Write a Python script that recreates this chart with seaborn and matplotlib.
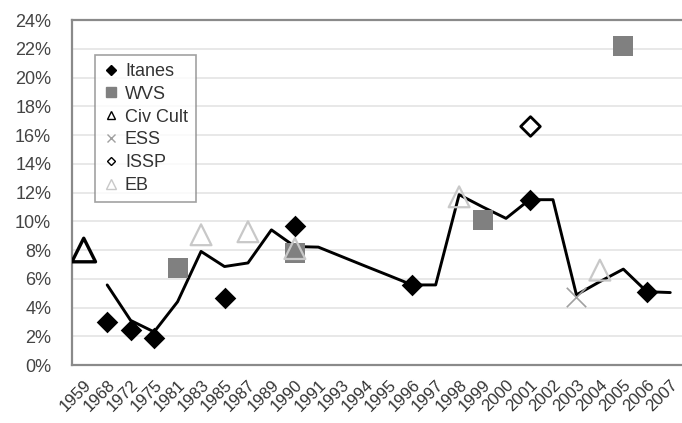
import numpy as np
import pandas as pd
import matplotlib
matplotlib.use("Agg")
import matplotlib.pyplot as plt
from matplotlib.lines import Line2D
from matplotlib.ticker import PercentFormatter, FixedLocator
import seaborn as sns

# Survey years (categorical axis)
years = ["1959", "1968", "1972", "1975", "1981", "1983", "1985", "1987", "1989",
         "1990", "1991", "1993", "1994", "1995", "1996", "1997", "1998", "1999",
         "2000", "2001", "2002", "2003", "2004", "2005", "2006", "2007"]

# Trend line (share, %), NaN where no value
trend = [np.nan, 5.57, 3.1, 2.3, 4.4, 7.9, 6.85, 7.1, 9.4,
         8.24, 8.2, 7.54, 6.88, 6.23, 5.57, 5.57, 11.85, 11.0,
         10.2, 11.5, 11.5, 4.88, 5.8, 6.67, 5.1, 5.04]

# Individual surveys: (year, value %)
itanes_years = ["1968", "1972", "1975", "1985", "1990", "1996", "2001", "2006"]
itanes_vals = [3.0, 2.44, 1.87, 4.66, 9.64, 5.57, 11.5, 5.1]

wvs_years = ["1981", "1990", "1999", "2005"]
wvs_vals = [6.74, 7.8, 10.1, 22.2]

civ_years = ["1959"]
civ_vals = [8.0]

ess_years = ["2003"]
ess_vals = [4.76]

issp_years = ["2001"]
issp_vals = [16.65]

eb_years = ["1983", "1987", "1990", "1998", "2004"]
eb_vals = [9.06, 9.27, 8.1, 11.7, 6.6]

sns.set_style("white")
plt.rcParams["font.family"] = ["Liberation Sans", "DejaVu Sans"]

pos = {y: i for i, y in enumerate(years)}

W, H = 682, 423
fig = plt.figure(figsize=(W / 100, H / 100), dpi=100)
left, right, top, bottom = 72, 682, 20, 365
ax = fig.add_axes([left / W, (H - bottom) / H, (right - left) / W, (bottom - top) / H])

# Trend line
df_line = pd.DataFrame({"x": range(len(years)), "y": np.array(trend) / 100})
sns.lineplot(data=df_line, x="x", y="y", ax=ax, color="black", linewidth=2.1,
             zorder=3, legend=False)

def draw(yrs, vals, **kw):
    d = pd.DataFrame({"x": [pos[y] for y in yrs], "y": np.array(vals) / 100})
    sns.scatterplot(data=d, x="x", y="y", ax=ax, legend=False, **kw)

draw(wvs_years, wvs_vals, marker="s", s=15 ** 2, color="#808080", edgecolor="#808080",
     linewidth=0, zorder=4)
draw(eb_years, eb_vals, marker="^", s=15 ** 2, facecolor="none", edgecolor="#c8c8c8",
     linewidth=1.6, zorder=4)
draw(civ_years, civ_vals, marker="^", s=17 ** 2, facecolor="none", edgecolor="black",
     linewidth=2.4, zorder=5)
draw(ess_years, ess_vals, marker="x", s=14 ** 2, color="#a0a0a0", linewidth=1.2, zorder=5)
draw(issp_years, issp_vals, marker="D", s=10 ** 2, facecolor="white", edgecolor="black",
     linewidth=2.0, zorder=5)
draw(itanes_years, itanes_vals, marker="D", s=11 ** 2, color="black", edgecolor="black",
     linewidth=0, zorder=6)

# Axes
ax.set_xlim(-0.5, len(years) - 0.5)
ax.set_ylim(0, 0.24)
ax.set_xlabel("")
ax.set_ylabel("")
ax.yaxis.set_major_locator(FixedLocator(np.arange(0, 0.2401, 0.02)))
ax.yaxis.set_major_formatter(PercentFormatter(1.0, decimals=0))
ax.set_xticks(range(len(years)))
ax.set_xticklabels(years, rotation=45, ha="right", rotation_mode="anchor")
ax.xaxis.set_minor_locator(FixedLocator(np.arange(-0.5, len(years), 1.0)))
ax.tick_params(axis="x", which="major", length=0, pad=9, labelsize=12, labelcolor="#333333")
ax.tick_params(axis="x", which="minor", length=4, width=1, color="#808080", direction="out")
ax.tick_params(axis="y", which="major", length=5, width=1, color="#808080", direction="out",
               labelsize=13, labelcolor="#444444", pad=10)
ax.grid(axis="y", color="#e4e4e4", linewidth=1.2)
ax.set_axisbelow(True)
for side in ["left", "bottom", "top"]:
    ax.spines[side].set_visible(True)
    ax.spines[side].set_color("#8a8a8a")
    ax.spines[side].set_linewidth(1.6)
ax.spines["right"].set_visible(False)

handles = [
    Line2D([], [], linestyle="", marker="D", markersize=5, color="black", label="Itanes"),
    Line2D([], [], linestyle="", marker="s", markersize=7, color="#808080", label="WVS"),
    Line2D([], [], linestyle="", marker="^", markersize=6, markerfacecolor="none",
           markeredgecolor="black", markeredgewidth=1, label="Civ Cult"),
    Line2D([], [], linestyle="", marker="x", markersize=6, color="#a0a0a0", label="ESS"),
    Line2D([], [], linestyle="", marker="D", markersize=4.5, markerfacecolor="white",
           markeredgecolor="black", markeredgewidth=1, label="ISSP"),
    Line2D([], [], linestyle="", marker="^", markersize=7, markerfacecolor="none",
           markeredgecolor="#c8c8c8", markeredgewidth=1, label="EB"),
]
leg = ax.legend(handles=handles, loc="upper left", bbox_to_anchor=(0.038, 0.899),
                borderaxespad=0, frameon=True, fancybox=False, fontsize=13,
                labelspacing=0.32, handletextpad=0.3, handlelength=0.9,
                borderpad=0.45, labelcolor="#333333")
leg.get_frame().set_edgecolor("#8a8a8a")
leg.get_frame().set_linewidth(1.2)

fig.savefig("out.png", dpi=100)
